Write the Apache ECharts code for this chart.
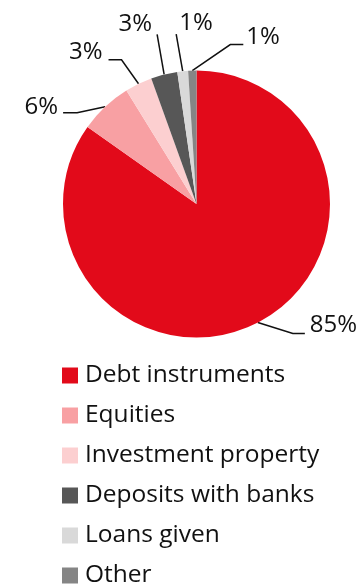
<!DOCTYPE html>
<html>
<head>
<meta charset="utf-8">
<script src="https://cdn.jsdelivr.net/npm/echarts@6/dist/echarts.min.js"></script>
<style>
html,body{margin:0;padding:0;background:#fff;}
#chart{width:362px;height:585px;}
</style>
</head>
<body>
<div id="chart"></div>
<script>
// Data
var categories = ['Debt instruments', 'Equities', 'Investment property', 'Deposits with banks', 'Loans given', 'Other'];
var shares = [84.8, 6.4, 3.3, 3.2, 1.3, 1.0];
var colors = ['#e20a1a', '#f8a0a3', '#fccfd0', '#575757', '#d9d9d9', '#858585'];

// Label guide styling (offsets from the slice edge point, text offsets from line end)
var guides = [
  {dx: 35, dy: 11, h: 12, align: 'left', tx: 5, ty: -8},
  {dx: -28, dy: 6, h: -14, align: 'right', tx: -5, ty: -6},
  {dx: -17, dy: -24, h: -13, align: 'right', tx: -6, ty: -8},
  {dx: -7, dy: -40, h: 0, align: 'right', tx: -5, ty: -10},
  {dx: -6.5, dy: -37, h: 0, align: 'left', tx: 3, ty: -11},
  {dx: 38, dy: -26, h: 13, align: 'left', tx: 3, ty: -7}
];

var FONT = '"Open Sans", sans-serif';
var chart = echarts.init(document.getElementById('chart'), null, {renderer: 'canvas'});

var data = categories.map(function (c, i) {
  return {name: c, value: shares[i], itemStyle: {color: colors[i]}};
});

chart.setOption({
  animation: false,
  backgroundColor: '#fff',
  legend: {
    orient: 'vertical',
    left: 62,
    top: 363,
    height: 300,
    padding: 0,
    itemWidth: 16,
    itemHeight: 16,
    itemGap: 15,
    icon: 'rect',
    selectedMode: false,
    data: categories,
    textStyle: {fontFamily: FONT, fontSize: 24.5, color: '#111', padding: [0, 0, 0, 2]}
  },
  series: [{
    type: 'pie',
    center: [196.5, 204],
    radius: [0, 133.5],
    startAngle: 90,
    clockwise: true,
    avoidLabelOverlap: false,
    data: data,
    label: {
      show: true,
      position: 'outside',
      fontFamily: FONT,
      fontSize: 24,
      color: '#111',
      formatter: function (p) { return Math.round(p.value) + '%'; }
    },
    labelLine: {
      show: true,
      length: 20,
      length2: 10,
      lineStyle: {color: '#111', width: 1.5}
    },
    labelLayout: function (params) {
      var g = guides[params.dataIndex];
      var pts = params.labelLinePoints;
      if (!pts || !g) return {};
      var p0 = pts[0];
      var p1 = [p0[0] + g.dx, p0[1] + g.dy];
      var p2 = [p1[0] + g.h, p1[1]];
      return {
        x: p2[0] + g.tx,
        y: p2[1] + g.ty,
        align: g.align,
        verticalAlign: 'middle',
        labelLinePoints: [p0, p1, p2]
      };
    }
  }]
});
</script>
</body>
</html>
